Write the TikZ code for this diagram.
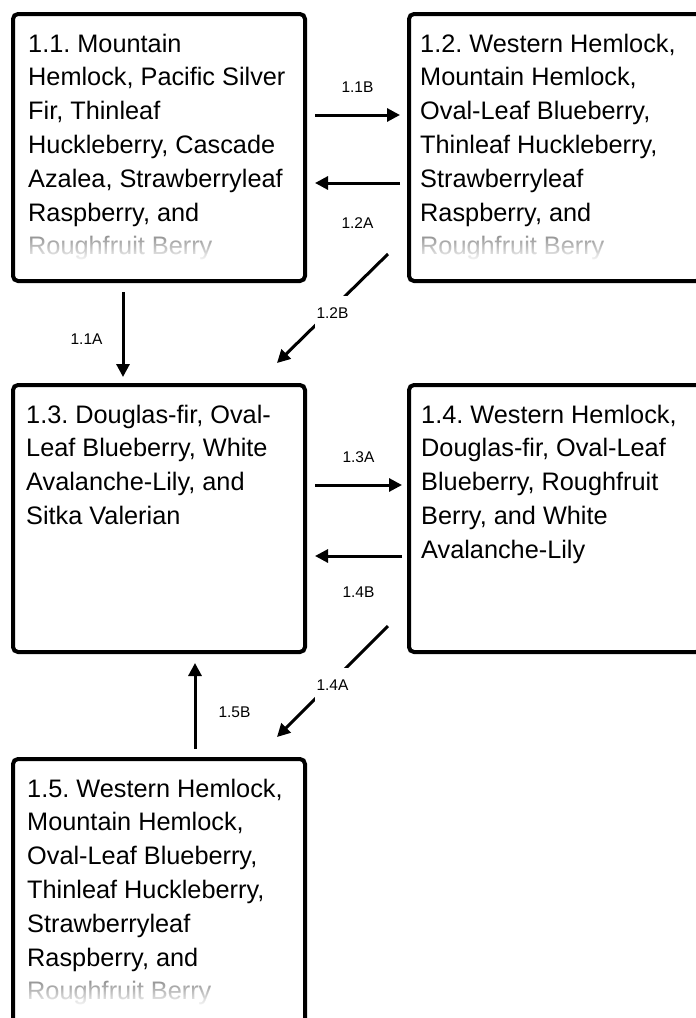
\documentclass[tikz,border=0pt]{standalone}
\usepackage{fontspec}
\setmainfont{Liberation Sans}
\usetikzlibrary{positioning, arrows.meta}

\begin{document}
\frenchspacing
\begin{tikzpicture}[x=1pt, y=1pt, >={Triangle[length=13pt, width=13pt]}]
\tikzstyle{box} = [draw, line width=4pt, rounded corners=5pt, minimum width=292pt, minimum height=267pt, inner sep=0pt]
\tikzstyle{txt} = [anchor=north west, align=left, inner sep=0pt, font=\fontsize{25.3}{33.8}\selectfont]
\tikzstyle{arr} = [->, line width=3pt]
\tikzstyle{lbl} = [inner sep=0pt, font=\fontsize{15.5}{18}\selectfont]
\tikzstyle{gaplbl} = [lbl, fill=white, inner xsep=2pt, inner ysep=12pt]

\useasboundingbox (0,0) rectangle (696,-1018);
\clip (0,0) rectangle (696,-1018);

%boxes
\node (b11)[box] at (159,-147.5) {};
\node (b12)[box, right=100pt of b11] {};
\node (b13)[box, below=100pt of b11] {};
\node (b14)[box, right=100pt of b13] {};
\node (b15)[box, below=103pt of b13] {};

%texts
\node (t11)[txt] at ([shift={(17,-21.5)}]b11.north west) {1.1. Mountain\\Hemlock, Pacific Silver\\Fir, Thinleaf\\Huckleberry, Cascade\\Azalea, Strawberryleaf\\Raspberry, and\\Roughfruit Berry};
\node (t12)[txt] at ([shift={(13,-21.5)}]b12.north west) {1.2. Western Hemlock,\\Mountain Hemlock,\\Oval-Leaf Blueberry,\\Thinleaf Huckleberry,\\Strawberryleaf\\Raspberry, and\\Roughfruit Berry};
\node (t13)[txt] at ([shift={(15,-21.5)}]b13.north west) {1.3. Douglas-fir, Oval-\\Leaf Blueberry, White\\Avalanche-Lily, and\\Sitka Valerian};
\node (t14)[txt] at ([shift={(14,-21.5)}]b14.north west) {1.4. Western Hemlock,\\Douglas-fir, Oval-Leaf\\Blueberry, Roughfruit\\Berry, and White\\Avalanche-Lily};
\node (t15)[txt] at ([shift={(16,-21.5)}]b15.north west) {1.5. Western Hemlock,\\Mountain Hemlock,\\Oval-Leaf Blueberry,\\Thinleaf Huckleberry,\\Strawberryleaf\\Raspberry, and\\Roughfruit Berry};

%%faded last lines: white layers, thicker towards the bottom
\foreach \t in {t11,t12,t15}{
  \fill[white, opacity=0.55] ([shift={(-4,-1)}]\t.south west) rectangle ([shift={(4,26)}]\t.south east);
  \foreach \j in {1,...,25}{
    \pgfmathsetmacro\a{1-(0.02+0.43*(\j-1)/25)/(0.02+0.43*\j/25)}
    \fill[white, opacity=\a] ([shift={(-4,-1)}]\t.south west) rectangle ([shift={(4,\j)}]\t.south east);
  }
}

%arrows
\draw [arr] ([shift={(8,-103)}]b11.north east) -- node[lbl, above=21.5pt]{1.1B} ([shift={(-7,-103)}]b12.north west);
\draw [arr] ([shift={(-7,-171)}]b12.north west) -- node[lbl, below=33.5pt]{1.2A} ([shift={(8,-171)}]b11.north east);
\draw [arr] ([shift={(-36,-9)}]b11.south) -- node[lbl, left=19pt, pos=0.55]{1.1A} ([shift={(-36,6)}]b13.north);
\draw [arr] ([shift={(-19,29)}]b12.south west) -- node[gaplbl, yshift=-5pt]{1.2B} ([shift={(-30,20)}]b13.north east);
\draw [arr] ([shift={(8,-102)}]b13.north east) -- node[lbl, above=20.5pt]{1.3A} ([shift={(-5,-102)}]b14.north west);
\draw [arr] ([shift={(-5,-173)}]b14.north west) -- node[lbl, below=29.5pt]{1.4B} ([shift={(8,-173)}]b13.north east);
\draw [arr] ([shift={(-19,28)}]b14.south west) -- node[gaplbl, yshift=-3.5pt]{1.4A} ([shift={(-30,20)}]b15.north east);
\draw [arr] ([shift={(36,8)}]b15.north) -- node[lbl, right=22pt, pos=0.43]{1.5B} ([shift={(36,-9)}]b13.south);

\end{tikzpicture}
\end{document}
